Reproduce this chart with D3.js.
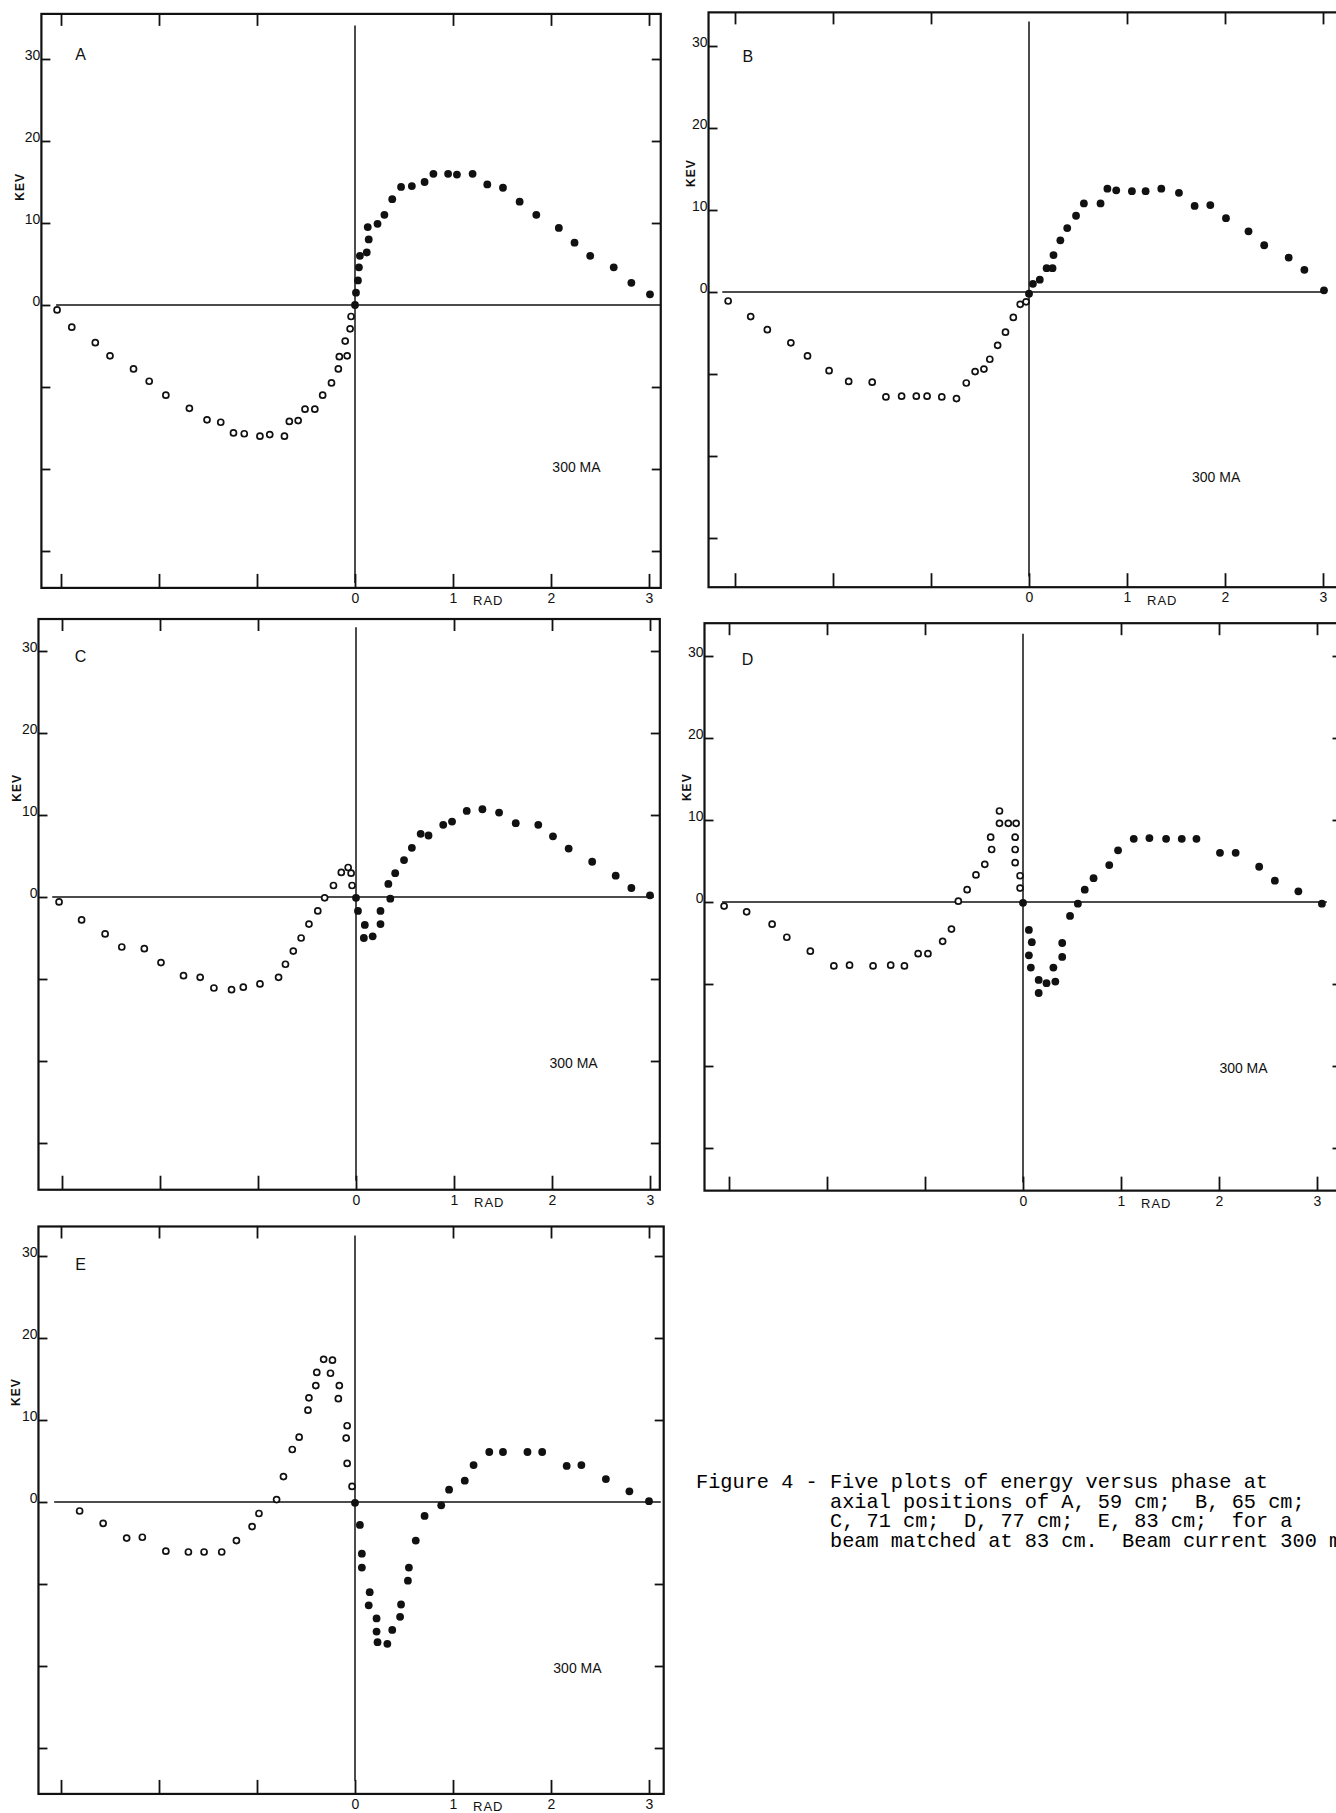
<!DOCTYPE html>
<html>
<head>
<meta charset="utf-8">
<script src="https://cdn.jsdelivr.net/npm/d3@7"></script>
<style>
  body { margin: 0; background: #fff; }
  svg text { font-family: "Liberation Sans", Arial, sans-serif; fill: #111; }
</style>
</head>
<body>
<div id="fig"></div>
<script>
// energy (KEV) versus phase (RAD), open = before the crossing, filled = after
var openA = [[-3.04,-0.6],[-2.89,-2.7],[-2.65,-4.6],[-2.50,-6.2],[-2.26,-7.8],[-2.10,-9.3],[-1.93,-11.0],
  [-1.69,-12.6],[-1.51,-14.0],[-1.37,-14.3],[-1.24,-15.6],[-1.13,-15.7],[-0.97,-16.0],[-0.87,-15.8],
  [-0.72,-16.0],[-0.67,-14.2],[-0.58,-14.1],[-0.51,-12.7],[-0.41,-12.7],[-0.33,-11.0],[-0.24,-9.5],
  [-0.17,-7.8],[-0.16,-6.3],[-0.08,-6.2],[-0.10,-4.4],[-0.05,-2.9],[-0.04,-1.4]];
var filledA = [[0,0],[0.01,1.5],[0.03,3.0],[0.04,4.6],[0.05,6.0],[0.12,6.4],[0.14,8.0],[0.13,9.5],
  [0.23,9.9],[0.30,11.0],[0.38,12.9],[0.47,14.4],[0.58,14.5],[0.71,15.0],[0.80,16.0],[0.95,16.0],
  [1.04,15.9],[1.20,16.0],[1.35,14.7],[1.51,14.3],[1.68,12.6],[1.85,11.0],[2.08,9.4],[2.24,7.6],
  [2.40,6.0],[2.64,4.6],[2.82,2.7],[3.01,1.3]];

var openB = [[-3.07,-1.1],[-2.84,-3.0],[-2.67,-4.6],[-2.43,-6.2],[-2.26,-7.8],[-2.04,-9.6],[-1.84,-10.9],
  [-1.60,-11.0],[-1.46,-12.8],[-1.30,-12.7],[-1.15,-12.7],[-1.04,-12.7],[-0.89,-12.8],[-0.74,-13.0],
  [-0.64,-11.1],[-0.55,-9.7],[-0.46,-9.4],[-0.40,-8.2],[-0.32,-6.5],[-0.24,-4.9],[-0.16,-3.1],
  [-0.09,-1.5],[-0.03,-1.2]];
var filledB = [[0,-0.2],[0.04,1.0],[0.11,1.5],[0.18,2.9],[0.24,2.9],[0.25,4.5],[0.32,6.3],[0.39,7.8],
  [0.48,9.3],[0.56,10.8],[0.73,10.8],[0.80,12.6],[0.89,12.4],[1.05,12.3],[1.19,12.3],[1.35,12.6],
  [1.53,12.1],[1.69,10.5],[1.85,10.6],[2.01,9.0],[2.24,7.4],[2.40,5.7],[2.65,4.2],[2.81,2.7],[3.01,0.2]];

var openC = [[-3.03,-0.6],[-2.80,-2.8],[-2.56,-4.5],[-2.39,-6.1],[-2.16,-6.3],[-1.99,-8.0],[-1.76,-9.6],
  [-1.59,-9.8],[-1.45,-11.1],[-1.27,-11.3],[-1.15,-11.0],[-0.98,-10.6],[-0.79,-9.8],[-0.72,-8.2],
  [-0.64,-6.6],[-0.56,-5.0],[-0.48,-3.3],[-0.39,-1.7],[-0.32,-0.1],[-0.23,1.4],[-0.15,3.0],
  [-0.08,3.6],[-0.05,2.9],[-0.04,1.4]];
var filledC = [[0,-0.1],[0.02,-1.7],[0.09,-3.4],[0.08,-5.0],[0.17,-4.8],[0.25,-3.3],[0.25,-1.7],
  [0.35,-0.2],[0.33,1.6],[0.40,2.9],[0.49,4.5],[0.57,6.0],[0.66,7.7],[0.74,7.5],[0.89,8.8],[0.98,9.2],
  [1.13,10.5],[1.29,10.7],[1.46,10.3],[1.63,9.0],[1.86,8.8],[2.01,7.4],[2.17,5.9],[2.41,4.3],
  [2.65,2.6],[2.81,1.1],[3.00,0.2]];

var openD = [[-3.05,-0.5],[-2.82,-1.2],[-2.56,-2.7],[-2.41,-4.3],[-2.17,-6.0],[-1.93,-7.8],[-1.77,-7.7],
  [-1.53,-7.8],[-1.35,-7.7],[-1.21,-7.8],[-1.07,-6.3],[-0.97,-6.3],[-0.82,-4.8],[-0.73,-3.3],
  [-0.66,0.1],[-0.57,1.5],[-0.48,3.3],[-0.39,4.6],[-0.32,6.4],[-0.33,7.9],[-0.24,9.6],[-0.24,11.1],
  [-0.15,9.6],[-0.07,9.6],[-0.08,7.9],[-0.08,6.4],[-0.08,4.8],[-0.03,3.2],[-0.03,1.7]];
var filledD = [[0,-0.1],[0.06,-3.4],[0.09,-4.9],[0.06,-6.5],[0.08,-8.0],[0.16,-9.5],[0.24,-9.9],
  [0.16,-11.1],[0.33,-9.7],[0.31,-8.0],[0.40,-6.7],[0.40,-5.0],[0.48,-1.7],[0.56,-0.2],[0.63,1.5],
  [0.72,2.9],[0.88,4.5],[0.97,6.3],[1.13,7.7],[1.29,7.8],[1.46,7.7],[1.62,7.7],[1.77,7.7],[2.01,6.0],
  [2.17,6.0],[2.41,4.3],[2.57,2.6],[2.81,1.3],[3.05,-0.2]];

var openE = [[-2.81,-1.1],[-2.57,-2.6],[-2.33,-4.4],[-2.17,-4.3],[-1.93,-6.0],[-1.70,-6.1],[-1.54,-6.1],
  [-1.36,-6.1],[-1.21,-4.7],[-1.05,-3.0],[-0.98,-1.4],[-0.80,0.3],[-0.73,3.1],[-0.64,6.4],[-0.57,7.9],
  [-0.48,11.2],[-0.47,12.7],[-0.40,14.2],[-0.39,15.8],[-0.32,17.4],[-0.23,17.3],[-0.25,15.7],
  [-0.16,14.2],[-0.17,12.6],[-0.08,9.3],[-0.09,7.8],[-0.08,4.7],[-0.03,1.9]];
var filledE = [[0,-0.1],[0.05,-2.8],[0.07,-6.3],[0.07,-8.0],[0.15,-11.0],[0.14,-12.6],[0.22,-14.2],
  [0.22,-15.8],[0.23,-17.1],[0.33,-17.3],[0.38,-15.6],[0.46,-14.0],[0.47,-12.5],[0.54,-9.6],[0.55,-8.0],
  [0.62,-4.7],[0.71,-1.7],[0.88,-0.4],[0.96,1.5],[1.12,2.6],[1.21,4.5],[1.37,6.1],[1.51,6.1],
  [1.76,6.1],[1.91,6.1],[2.16,4.4],[2.31,4.5],[2.56,2.8],[2.80,1.3],[3.00,0.1]];

var xTicks = [-3, -2, -1, 0, 1, 2, 3];
var yTicks = [30, 20, 10, 0, -10, -20, -30];
var currentLabel = "300 MA";
var captionLines = [
  "Figure 4 - Five plots of energy versus phase at",
  "axial positions of A, 59 cm;  B, 65 cm;",
  "C, 71 cm;  D, 77 cm;  E, 83 cm;  for a",
  "beam matched at 83 cm.  Beam current 300 mA."
];

var w = 1336, h = 1813;
var kx = 98, ky = 8.2; // px per rad, px per keV
var ink = "#111";

// where each panel sits on the page (origin in px, domains in data units)
var layout = {
  A: { ox: 355, oy: 305, xd: [-3.20, 3.12], yd: [-34.5, 35.5], hx: [-3.05, 3.12], vy: [-33.9, 34.1], tag: [-2.80, 30.6], ma: [2.26, -19.7], kev: [-21, 14.4] },
  B: { ox: 1029, oy: 292, xd: [-3.27, 3.25], yd: [-36.0, 34.1], hx: [-3.13, 3.04], vy: [-34.7, 33.0], tag: [-2.87, 28.7], ma: [1.91, -22.6], kev: [-18, 14.5] },
  C: { ox: 356, oy: 897, xd: [-3.24, 3.10], yd: [-35.7, 33.9], hx: [-3.10, 3.04], vy: [-34.6, 32.9], tag: [-2.81, 29.3], ma: [2.22, -20.3], kev: [-21, 13.3] },
  D: { ox: 1023, oy: 902, xd: [-3.25, 3.25], yd: [-35.2, 34.0], hx: [-3.07, 3.10], vy: [-34.2, 32.7], tag: [-2.81, 29.6], ma: [2.25, -20.2], kev: [-18, 14.0] },
  E: { ox: 355, oy: 1502, xd: [-3.23, 3.15], yd: [-35.6, 33.6], hx: [-3.07, 3.12], vy: [-34.0, 32.5], tag: [-2.80, 29.0], ma: [2.27, -20.2], kev: [-22, 13.4] }
};

var svg = d3.select("#fig")
            .append("svg")
            .attr("width", w)
            .attr("height", h)
            .style("display", "block");

svg.append("rect").attr("width", w).attr("height", h).attr("fill", "#fff");

function styleAxis(sel, size) {
    sel.attr("font-family", "Liberation Sans, Arial, sans-serif")
       .attr("font-size", size)
       .attr("color", ink);
    sel.select(".domain").remove();
    sel.selectAll("line").attr("stroke-width", 1.8);
}

function drawPanel(name, open, filled) {
    var L = layout[name];
    var x = d3.scaleLinear().domain(L.xd).range([L.ox + L.xd[0] * kx, L.ox + L.xd[1] * kx]);
    var y = d3.scaleLinear().domain(L.yd).range([L.oy - L.yd[0] * ky, L.oy - L.yd[1] * ky]);
    var left = x.range()[0], right = x.range()[1];
    var bottom = y.range()[0], top = y.range()[1];
    var g = svg.append("g");

    // frame
    g.append("rect")
     .attr("x", left).attr("y", top)
     .attr("width", right - left).attr("height", bottom - top)
     .attr("fill", "none").attr("stroke", ink).attr("stroke-width", 2.2);

    // ticks pointing inward on all four sides
    g.append("g")
     .attr("transform", `translate(0,${bottom})`)
     .call(d3.axisBottom(x).tickValues(xTicks).tickSize(-14).tickPadding(5)
           .tickFormat(d => d >= 0 ? d : ""))
     .call(s => styleAxis(s, 14));

    g.append("g")
     .attr("transform", `translate(0,${top})`)
     .call(d3.axisTop(x).tickValues(xTicks.filter(d => d !== 0)).tickSize(-12).tickFormat(""))
     .call(s => styleAxis(s, 14));

    g.append("g")
     .attr("transform", `translate(${left},0)`)
     .call(d3.axisLeft(y).tickValues(yTicks).tickSize(-9).tickPadding(1)
           .tickFormat(d => d >= 0 ? d : ""))
     .call(s => styleAxis(s, 14))
     .call(s => s.selectAll("text").attr("dy", "0.05em"));

    g.append("g")
     .attr("transform", `translate(${right},0)`)
     .call(d3.axisRight(y).tickValues(yTicks.filter(d => d !== 0)).tickSize(-9).tickFormat(""))
     .call(s => styleAxis(s, 14));

    // zero lines
    g.append("line")
     .attr("x1", x(L.hx[0])).attr("x2", x(L.hx[1]))
     .attr("y1", y(0)).attr("y2", y(0))
     .attr("stroke", ink).attr("stroke-width", 1.7);
    g.append("line")
     .attr("x1", x(0)).attr("x2", x(0))
     .attr("y1", y(L.vy[1])).attr("y2", y(L.vy[0]))
     .attr("stroke", ink).attr("stroke-width", 1.5);

    // points
    g.selectAll("circle.open")
     .data(open)
     .enter()
     .append("circle")
     .attr("class", "open")
     .attr("cx", d => x(d[0]))
     .attr("cy", d => y(d[1]))
     .attr("r", 3.0)
     .attr("fill", "#fff")
     .attr("stroke", ink)
     .attr("stroke-width", 1.7);

    g.selectAll("circle.filled")
     .data(filled)
     .enter()
     .append("circle")
     .attr("class", "filled")
     .attr("cx", d => x(d[0]))
     .attr("cy", d => y(d[1]))
     .attr("r", 3.9)
     .attr("fill", ink);

    // labels
    g.append("text")
     .attr("x", x(L.tag[0])).attr("y", y(L.tag[1]))
     .attr("text-anchor", "middle").attr("dominant-baseline", "central")
     .attr("font-size", 16)
     .text(name);

    g.append("text")
     .attr("x", x(L.ma[0])).attr("y", y(L.ma[1]))
     .attr("text-anchor", "middle").attr("dominant-baseline", "central")
     .attr("font-size", 14)
     .text(currentLabel);

    g.append("text")
     .attr("transform", `translate(${left + L.kev[0]},${y(L.kev[1])}) rotate(-90)`)
     .attr("text-anchor", "middle").attr("dominant-baseline", "central")
     .attr("font-size", 12).attr("font-weight", "bold")
     .attr("letter-spacing", 1)
     .text("KEV");

    g.append("text")
     .attr("x", x(1.36)).attr("y", bottom + 13)
     .attr("text-anchor", "middle").attr("dominant-baseline", "central")
     .attr("font-size", 13)
     .attr("letter-spacing", 1)
     .text("RAD");
}

drawPanel("A", openA, filledA);
drawPanel("B", openB, filledB);
drawPanel("C", openC, filledC);
drawPanel("D", openD, filledD);
drawPanel("E", openE, filledE);

// typewritten caption (the last line runs off the page edge, as in the scan)
var cap = svg.append("g")
             .attr("font-family", "Liberation Mono, Courier New, monospace")
             .attr("font-size", 20.3);
cap.selectAll("text")
   .data(captionLines)
   .enter()
   .append("text")
   .attr("x", (d, i) => i === 0 ? 696 : 830)
   .attr("y", (d, i) => 1488 + i * 19.5)
   .style("white-space", "pre")
   .style("font-family", "Liberation Mono, monospace")
   .style("fill", "#000")
   .text(d => d);
</script>
</body>
</html>
